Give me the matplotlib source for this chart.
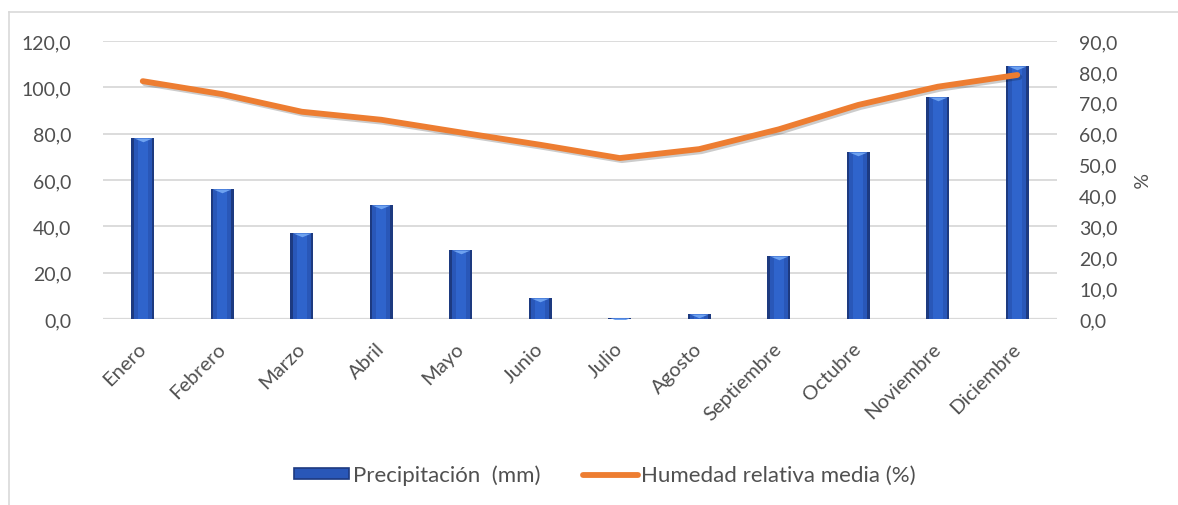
import matplotlib
matplotlib.use("Agg")
import matplotlib.pyplot as plt
import matplotlib.patheffects as pe
from matplotlib.lines import Line2D
from matplotlib.patches import Patch
from matplotlib.ticker import FuncFormatter, MultipleLocator

months = ["Enero", "Febrero", "Marzo", "Abril", "Mayo", "Junio", "Julio",
          "Agosto", "Septiembre", "Octubre", "Noviembre", "Diciembre"]
precip_mm = [78.0, 56.0, 37.0, 49.0, 30.0, 9.0, 0.5, 2.0, 27.0, 72.0, 96.0, 109.0]
humidity_pct = [77.0, 72.8, 67.1, 64.5, 60.4, 56.4, 52.1, 55.0, 61.4, 69.3, 75.2, 79.0]

label_precip = "Precipitación  (mm)"
label_hum = "Humedad relativa media (%)"

plt.rcParams['font.family'] = ['Lato', 'DejaVu Sans']
TXT = '#505050'
FS = 14

fig = plt.figure(figsize=(11.78, 5.06), dpi=100)
ax = fig.add_axes([103/1178, 1-320/506, (1057-103)/1178, (320-42)/506])
ax2 = ax.twinx()

x = list(range(len(months)))
w = 0.29
outer = ax.bar(x, precip_mm, width=w, color='#1D3A80', zorder=3)
ax.bar(x, precip_mm, width=w*0.78, color='#2957B8', zorder=3.1)
ax.bar(x, precip_mm, width=w*0.42, color='#2F64CC', zorder=3.2)
# bevel triangle at the top of every bar, clipped to the bar
for xi, v, rect in zip(x, precip_mm, outer.patches):
    ln, = ax.plot([xi], [v], marker=[(-1, 0), (1, 0), (0, -0.42), (-1, 0)],
                  markersize=13, color='#6EA2F0', markeredgewidth=0,
                  linestyle='none', zorder=3.3)
    ln.set_clip_path(rect)

ax.set_xlim(-0.5, len(months) - 0.5)
ax.set_ylim(0, 120)
ax.yaxis.set_major_locator(MultipleLocator(20))
ax2.set_ylim(0, 90)
ax2.yaxis.set_major_locator(MultipleLocator(10))

fmt = FuncFormatter(lambda v, p: f"{v:.1f}".replace('.', ','))
ax.yaxis.set_major_formatter(fmt)
ax2.yaxis.set_major_formatter(fmt)

ax.grid(axis='y', color='#D9D9D9', linewidth=1.3, zorder=0)
ax.set_axisbelow(True)
for a in (ax, ax2):
    for s in ('top', 'right', 'left', 'bottom'):
        a.spines[s].set_visible(False)
ax.axhline(0, color='#D9D9D9', linewidth=1.6, zorder=2)

ax.set_xticks(x)
ax.set_xticklabels(months, rotation=45, ha='right', va='center',
                   rotation_mode='anchor', fontsize=FS + 0.5, color=TXT)
ax.tick_params(axis='x', length=0, pad=19)
ax.tick_params(axis='y', length=0, pad=23, labelsize=FS, labelcolor=TXT)
ax2.tick_params(axis='y', length=0, pad=16, labelsize=FS, labelcolor=TXT)
ax2.set_ylabel('%', rotation=-90, fontsize=FS, color=TXT, labelpad=8, va='bottom')

ax2.plot(x, humidity_pct, color='#ED7D31', linewidth=4.2, solid_capstyle='round',
         solid_joinstyle='round', zorder=5,
         path_effects=[pe.SimpleLineShadow(offset=(1.5, -1.5), alpha=0.2, shadow_color='k'),
                       pe.Normal()])

handles = [Patch(facecolor='#2957B8', edgecolor='#1D3A80', linewidth=1.2),
           Line2D([0], [0], color='#ED7D31', linewidth=4.2, solid_capstyle='round')]
fig.legend(handles, [label_precip, label_hum], loc='center',
           bbox_to_anchor=(605/1178, 1-476/506), ncol=2, frameon=False,
           fontsize=16, labelcolor=TXT, handlelength=2.5, handleheight=0.4,
           handletextpad=0.15, columnspacing=1.9)

# outer chart frame (left and top edges visible)
fig.add_artist(Line2D([9/1178, 9/1178], [0, 1-13/506], color='#D9D9D9', linewidth=1.2))
fig.add_artist(Line2D([9/1178, 1], [1-13/506, 1-13/506], color='#D9D9D9', linewidth=1.2))

fig.savefig('out.png', dpi=100)
